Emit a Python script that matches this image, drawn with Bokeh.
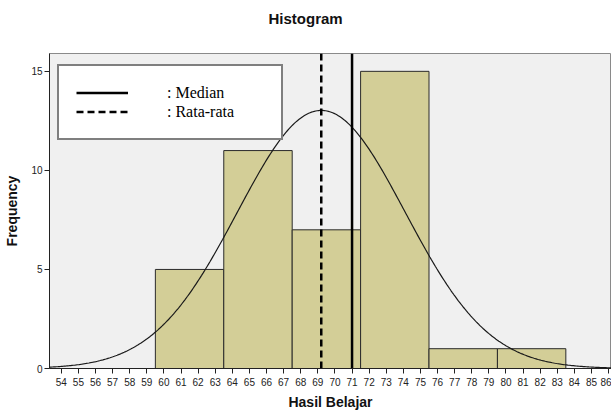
from bokeh.plotting import figure
from bokeh.models import Range1d, FixedTicker, Legend, LegendItem, Title
from bokeh.embed import file_html
from bokeh.resources import INLINE
import numpy as np

# data
bin_left = [59.5, 63.5, 67.5, 71.5, 75.5, 79.5]
bin_right = [63.5, 67.5, 71.5, 75.5, 79.5, 83.5]
counts = [5, 11, 7, 15, 1, 1]
mean_val = 69.2
median_val = 71.0
std_val = 4.9
x_ticks = [54, 55, 56, 57, 58, 59, 60, 61, 62, 63, 64, 65, 66, 67, 68, 69, 70,
           71, 72, 73, 74, 75, 76, 77, 78, 79, 80, 81, 82, 83, 84, 85, 86]
y_ticks = [0, 5, 10, 15]

FONT = "Liberation Sans"
X_START, X_END = 53.31, 86.17
Y_END = 15.9

p = figure(width=611, height=412, output_backend="svg", toolbar_location=None,
           x_range=Range1d(X_START, X_END), y_range=Range1d(0, Y_END),
           min_border_left=49, min_border_right=0, min_border_top=0, min_border_bottom=0)

p.title.text = "Histogram"
p.title.align = "left"
p.title.offset = 219
p.title.text_font = FONT
p.title.text_font_size = "15px"
p.title.text_font_style = "bold"
p.title.text_color = "#111111"
p.title.standoff = 14

# spacer between title and frame
p.add_layout(Title(text=" ", text_font_size="1px", standoff=17), "above")

p.background_fill_color = "#f0f0f0"
p.border_fill_color = "white"
p.outline_line_color = "#8a8a8a"
p.outline_line_width = 1
p.xgrid.visible = False
p.ygrid.visible = False

# bars
p.quad(left=bin_left, right=bin_right, bottom=0, top=counts,
       fill_color="#d3ce97", line_color="#2a2a2a", line_width=1)

# normal curve
n = sum(counts)
bw = bin_right[0] - bin_left[0]
xs = np.linspace(X_START, X_END, 400)
ys = n * bw / (std_val * np.sqrt(2 * np.pi)) * np.exp(-0.5 * ((xs - mean_val) / std_val) ** 2)
p.line(xs, ys, line_color="#1a1a1a", line_width=1.2)

# median / mean lines
med = p.line([median_val, median_val], [0, Y_END], line_color="black", line_width=2.5)
avg = p.line([mean_val, mean_val], [0, Y_END], line_color="black", line_width=2.5, line_dash="7 4")

legend = Legend(items=[LegendItem(label=": Median", renderers=[med]),
                       LegendItem(label=": Rata-rata", renderers=[avg])],
                location=(8, 228))
legend.border_line_color = "black"
legend.border_line_width = 2
legend.background_fill_color = "white"
legend.background_fill_alpha = 1
legend.label_text_font = "Liberation Serif"
legend.label_text_font_size = "16px"
legend.label_text_color = "black"
legend.glyph_width = 52
legend.glyph_height = 19
legend.label_height = 19
legend.label_width = 97
legend.label_standoff = 39
legend.spacing = 0
legend.padding = 17
legend.margin = 0
p.add_layout(legend)

# axes
p.xaxis.ticker = FixedTicker(ticks=x_ticks)
p.yaxis.ticker = FixedTicker(ticks=y_ticks)
p.xaxis.minor_tick_line_color = None
p.yaxis.minor_tick_line_color = None
for ax in (p.xaxis[0], p.yaxis[0]):
    ax.major_label_text_font = FONT
    ax.major_label_text_font_size = "10px"
    ax.major_label_text_color = "#222222"
    ax.axis_label_text_font = FONT
    ax.axis_label_text_font_size = "14px"
    ax.axis_label_text_font_style = "bold"
    ax.axis_label_text_color = "#111111"
    ax.axis_line_color = "#222222"
    ax.major_tick_line_color = "#222222"
    ax.major_tick_in = 0
    ax.major_tick_out = 5
p.xaxis.axis_label = "Hasil Belajar"
p.yaxis.axis_label = "Frequency"
p.xaxis.major_label_standoff = 4
p.xaxis.axis_label_standoff = 5
p.yaxis.major_label_standoff = 2
p.yaxis.axis_label_standoff = 8

open("out.html", "w").write(file_html(p, INLINE))
